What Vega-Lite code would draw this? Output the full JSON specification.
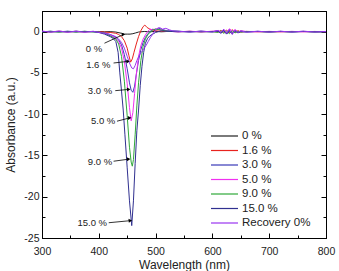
{
  "$schema": "https://vega.github.io/schema/vega-lite/v6.json",
  "width": 284,
  "height": 227,
  "autosize": "none",
  "padding": {"left": 42, "top": 11, "right": 13, "bottom": 33},
  "background": "#ffffff",
  "config": {
    "font": "Liberation Sans",
    "view": {"stroke": "#000", "strokeWidth": 1},
    "axis": {"grid": false, "domainColor": "#000", "tickColor": "#000", "labelColor": "#222", "titleColor": "#222", "titleFontWeight": "normal", "titleFontSize": 12, "labelFontSize": 10.5, "labelFlush": false}
  },
  "datasets": {
    "spec": [
      {"s":"0 %","w":300,"a":0},{"s":"0 %","w":315,"a":0.03},{"s":"0 %","w":330,"a":-0.02},{"s":"0 %","w":345,"a":0.02},{"s":"0 %","w":360,"a":-0.03},{"s":"0 %","w":375,"a":0.02},{"s":"0 %","w":390,"a":0},
      {"s":"0 %","w":400,"a":0.02},{"s":"0 %","w":410,"a":-0.02},{"s":"0 %","w":420,"a":0},{"s":"0 %","w":430,"a":-0.05},{"s":"0 %","w":440,"a":-0.2},{"s":"0 %","w":445,"a":-0.3},{"s":"0 %","w":450,"a":-0.3},{"s":"0 %","w":455,"a":-0.3},{"s":"0 %","w":460,"a":-0.25},{"s":"0 %","w":465,"a":-0.15},{"s":"0 %","w":470,"a":-0.05},{"s":"0 %","w":480,"a":0.02},{"s":"0 %","w":490,"a":-0.02},{"s":"0 %","w":500,"a":0.03},{"s":"0 %","w":510,"a":-0.02},{"s":"0 %","w":520,"a":0.02},
      {"s":"0 %","w":540,"a":0.02},{"s":"0 %","w":560,"a":0},{"s":"0 %","w":580,"a":0.03},{"s":"0 %","w":600,"a":0},{"s":"0 %","w":610,"a":0.05},{"s":"0 %","w":615,"a":-0.1},{"s":"0 %","w":620,"a":0.12},{"s":"0 %","w":625,"a":-0.15},{"s":"0 %","w":630,"a":0.1},{"s":"0 %","w":635,"a":-0.2},{"s":"0 %","w":640,"a":0.15},{"s":"0 %","w":645,"a":-0.08},{"s":"0 %","w":650,"a":0.05},{"s":"0 %","w":660,"a":0},{"s":"0 %","w":680,"a":0.02},{"s":"0 %","w":700,"a":-0.02},{"s":"0 %","w":720,"a":0.02},{"s":"0 %","w":740,"a":0},{"s":"0 %","w":760,"a":0.02},{"s":"0 %","w":780,"a":-0.02},{"s":"0 %","w":800,"a":0},

      {"s":"1.6 %","w":300,"a":0.02},{"s":"1.6 %","w":315,"a":-0.03},{"s":"1.6 %","w":330,"a":0.04},{"s":"1.6 %","w":345,"a":-0.02},{"s":"1.6 %","w":360,"a":0.03},{"s":"1.6 %","w":375,"a":-0.03},{"s":"1.6 %","w":390,"a":0.02},
      {"s":"1.6 %","w":400,"a":0},{"s":"1.6 %","w":410,"a":-0.05},{"s":"1.6 %","w":420,"a":-0.1},{"s":"1.6 %","w":430,"a":-0.2},{"s":"1.6 %","w":435,"a":-0.35},{"s":"1.6 %","w":440,"a":-0.6},{"s":"1.6 %","w":445,"a":-1.1},{"s":"1.6 %","w":450,"a":-2.0},{"s":"1.6 %","w":453,"a":-2.9},{"s":"1.6 %","w":456,"a":-3.7},{"s":"1.6 %","w":459,"a":-3.3},{"s":"1.6 %","w":462,"a":-2.5},{"s":"1.6 %","w":466,"a":-1.5},{"s":"1.6 %","w":470,"a":-0.6},{"s":"1.6 %","w":474,"a":0.1},{"s":"1.6 %","w":478,"a":0.6},{"s":"1.6 %","w":481,"a":0.8},{"s":"1.6 %","w":485,"a":0.5},{"s":"1.6 %","w":490,"a":0.3},{"s":"1.6 %","w":495,"a":0.2},{"s":"1.6 %","w":500,"a":0.1},{"s":"1.6 %","w":510,"a":0.05},{"s":"1.6 %","w":520,"a":0.03},
      {"s":"1.6 %","w":540,"a":0},{"s":"1.6 %","w":560,"a":0.03},{"s":"1.6 %","w":580,"a":-0.02},{"s":"1.6 %","w":600,"a":0.03},{"s":"1.6 %","w":610,"a":-0.05},{"s":"1.6 %","w":615,"a":0.15},{"s":"1.6 %","w":620,"a":-0.1},{"s":"1.6 %","w":625,"a":0.2},{"s":"1.6 %","w":630,"a":-0.15},{"s":"1.6 %","w":635,"a":0.25},{"s":"1.6 %","w":640,"a":-0.1},{"s":"1.6 %","w":645,"a":0.12},{"s":"1.6 %","w":650,"a":-0.05},{"s":"1.6 %","w":660,"a":0.03},{"s":"1.6 %","w":680,"a":-0.02},{"s":"1.6 %","w":700,"a":0.02},{"s":"1.6 %","w":720,"a":-0.02},{"s":"1.6 %","w":740,"a":0.02},{"s":"1.6 %","w":760,"a":0},{"s":"1.6 %","w":780,"a":0.02},{"s":"1.6 %","w":800,"a":0},

      {"s":"3.0 %","w":300,"a":-0.03},{"s":"3.0 %","w":315,"a":0.04},{"s":"3.0 %","w":330,"a":-0.03},{"s":"3.0 %","w":345,"a":0.05},{"s":"3.0 %","w":360,"a":-0.02},{"s":"3.0 %","w":375,"a":0.03},{"s":"3.0 %","w":390,"a":-0.02},
      {"s":"3.0 %","w":400,"a":-0.05},{"s":"3.0 %","w":410,"a":-0.15},{"s":"3.0 %","w":420,"a":-0.35},{"s":"3.0 %","w":430,"a":-0.7},{"s":"3.0 %","w":435,"a":-1.0},{"s":"3.0 %","w":440,"a":-1.6},{"s":"3.0 %","w":445,"a":-2.8},{"s":"3.0 %","w":450,"a":-4.5},{"s":"3.0 %","w":454,"a":-6.2},{"s":"3.0 %","w":457,"a":-7.1},{"s":"3.0 %","w":460,"a":-7.35},{"s":"3.0 %","w":463,"a":-6.6},{"s":"3.0 %","w":466,"a":-5.2},{"s":"3.0 %","w":470,"a":-3.5},{"s":"3.0 %","w":474,"a":-2.2},{"s":"3.0 %","w":478,"a":-1.3},{"s":"3.0 %","w":482,"a":-0.7},{"s":"3.0 %","w":486,"a":-0.3},{"s":"3.0 %","w":490,"a":0},{"s":"3.0 %","w":495,"a":0.3},{"s":"3.0 %","w":500,"a":0.2},{"s":"3.0 %","w":505,"a":0.4},{"s":"3.0 %","w":510,"a":0.3},{"s":"3.0 %","w":520,"a":0.1},
      {"s":"3.0 %","w":540,"a":0.05},{"s":"3.0 %","w":560,"a":-0.03},{"s":"3.0 %","w":580,"a":0.04},{"s":"3.0 %","w":600,"a":-0.02},{"s":"3.0 %","w":610,"a":0.1},{"s":"3.0 %","w":615,"a":-0.15},{"s":"3.0 %","w":620,"a":0.2},{"s":"3.0 %","w":625,"a":-0.25},{"s":"3.0 %","w":630,"a":0.15},{"s":"3.0 %","w":635,"a":-0.2},{"s":"3.0 %","w":640,"a":0.1},{"s":"3.0 %","w":645,"a":-0.1},{"s":"3.0 %","w":650,"a":0.05},{"s":"3.0 %","w":660,"a":-0.03},{"s":"3.0 %","w":680,"a":0.03},{"s":"3.0 %","w":700,"a":-0.02},{"s":"3.0 %","w":720,"a":0.03},{"s":"3.0 %","w":740,"a":-0.03},{"s":"3.0 %","w":760,"a":0.02},{"s":"3.0 %","w":780,"a":-0.02},{"s":"3.0 %","w":800,"a":0},

      {"s":"5.0 %","w":300,"a":0.04},{"s":"5.0 %","w":315,"a":-0.02},{"s":"5.0 %","w":330,"a":0.05},{"s":"5.0 %","w":345,"a":-0.04},{"s":"5.0 %","w":360,"a":0.04},{"s":"5.0 %","w":375,"a":-0.02},{"s":"5.0 %","w":390,"a":0.03},
      {"s":"5.0 %","w":400,"a":-0.05},{"s":"5.0 %","w":410,"a":-0.2},{"s":"5.0 %","w":420,"a":-0.4},{"s":"5.0 %","w":430,"a":-0.8},{"s":"5.0 %","w":435,"a":-1.2},{"s":"5.0 %","w":440,"a":-2.0},{"s":"5.0 %","w":445,"a":-3.6},{"s":"5.0 %","w":450,"a":-6.3},{"s":"5.0 %","w":454,"a":-9.2},{"s":"5.0 %","w":457,"a":-10.8},{"s":"5.0 %","w":460,"a":-9.8},{"s":"5.0 %","w":463,"a":-7.5},{"s":"5.0 %","w":466,"a":-5.2},{"s":"5.0 %","w":470,"a":-3.0},{"s":"5.0 %","w":474,"a":-1.7},{"s":"5.0 %","w":478,"a":-0.9},{"s":"5.0 %","w":482,"a":-0.4},{"s":"5.0 %","w":486,"a":0},{"s":"5.0 %","w":490,"a":0.3},{"s":"5.0 %","w":495,"a":0.2},{"s":"5.0 %","w":500,"a":0.35},{"s":"5.0 %","w":510,"a":0.2},{"s":"5.0 %","w":520,"a":0.05},
      {"s":"5.0 %","w":540,"a":-0.03},{"s":"5.0 %","w":560,"a":0.05},{"s":"5.0 %","w":580,"a":-0.02},{"s":"5.0 %","w":600,"a":0.04},{"s":"5.0 %","w":610,"a":0.12},{"s":"5.0 %","w":615,"a":-0.05},{"s":"5.0 %","w":620,"a":0.25},{"s":"5.0 %","w":625,"a":-0.1},{"s":"5.0 %","w":630,"a":0.35},{"s":"5.0 %","w":635,"a":0.05},{"s":"5.0 %","w":640,"a":0.25},{"s":"5.0 %","w":645,"a":-0.05},{"s":"5.0 %","w":650,"a":0.1},{"s":"5.0 %","w":660,"a":0.02},{"s":"5.0 %","w":680,"a":-0.02},{"s":"5.0 %","w":700,"a":0.03},{"s":"5.0 %","w":720,"a":-0.02},{"s":"5.0 %","w":740,"a":0.03},{"s":"5.0 %","w":760,"a":-0.03},{"s":"5.0 %","w":780,"a":0.02},{"s":"5.0 %","w":800,"a":0},

      {"s":"9.0 %","w":300,"a":-0.02},{"s":"9.0 %","w":315,"a":0.03},{"s":"9.0 %","w":330,"a":-0.04},{"s":"9.0 %","w":345,"a":0.03},{"s":"9.0 %","w":360,"a":-0.03},{"s":"9.0 %","w":375,"a":0.04},{"s":"9.0 %","w":390,"a":-0.03},
      {"s":"9.0 %","w":400,"a":-0.05},{"s":"9.0 %","w":410,"a":-0.2},{"s":"9.0 %","w":420,"a":-0.5},{"s":"9.0 %","w":430,"a":-0.9},{"s":"9.0 %","w":435,"a":-1.5},{"s":"9.0 %","w":440,"a":-3.0},{"s":"9.0 %","w":445,"a":-6.0},{"s":"9.0 %","w":450,"a":-10.2},{"s":"9.0 %","w":454,"a":-14},{"s":"9.0 %","w":457,"a":-15.8},{"s":"9.0 %","w":459,"a":-16.3},{"s":"9.0 %","w":461,"a":-15.5},{"s":"9.0 %","w":464,"a":-12.5},{"s":"9.0 %","w":467,"a":-9},{"s":"9.0 %","w":470,"a":-6.2},{"s":"9.0 %","w":474,"a":-3.5},{"s":"9.0 %","w":478,"a":-1.8},{"s":"9.0 %","w":482,"a":-0.9},{"s":"9.0 %","w":486,"a":-0.4},{"s":"9.0 %","w":490,"a":-0.1},{"s":"9.0 %","w":495,"a":0.2},{"s":"9.0 %","w":500,"a":0.3},{"s":"9.0 %","w":510,"a":0.2},{"s":"9.0 %","w":520,"a":0.05},
      {"s":"9.0 %","w":540,"a":0.03},{"s":"9.0 %","w":560,"a":-0.02},{"s":"9.0 %","w":580,"a":0.03},{"s":"9.0 %","w":600,"a":-0.03},{"s":"9.0 %","w":610,"a":-0.08},{"s":"9.0 %","w":615,"a":0.1},{"s":"9.0 %","w":620,"a":-0.2},{"s":"9.0 %","w":625,"a":0.05},{"s":"9.0 %","w":630,"a":-0.25},{"s":"9.0 %","w":635,"a":0.1},{"s":"9.0 %","w":640,"a":-0.15},{"s":"9.0 %","w":645,"a":0.05},{"s":"9.0 %","w":650,"a":-0.05},{"s":"9.0 %","w":660,"a":0.02},{"s":"9.0 %","w":680,"a":0.02},{"s":"9.0 %","w":700,"a":-0.03},{"s":"9.0 %","w":720,"a":0.02},{"s":"9.0 %","w":740,"a":-0.02},{"s":"9.0 %","w":760,"a":0.03},{"s":"9.0 %","w":780,"a":-0.02},{"s":"9.0 %","w":800,"a":0},

      {"s":"15.0 %","w":300,"a":0.03},{"s":"15.0 %","w":315,"a":-0.04},{"s":"15.0 %","w":330,"a":0.02},{"s":"15.0 %","w":345,"a":-0.03},{"s":"15.0 %","w":360,"a":0.05},{"s":"15.0 %","w":375,"a":-0.03},{"s":"15.0 %","w":390,"a":0.02},
      {"s":"15.0 %","w":400,"a":-0.1},{"s":"15.0 %","w":410,"a":-0.3},{"s":"15.0 %","w":420,"a":-0.6},{"s":"15.0 %","w":425,"a":-0.8},{"s":"15.0 %","w":430,"a":-1.2},{"s":"15.0 %","w":434,"a":-2.5},{"s":"15.0 %","w":437,"a":-5},{"s":"15.0 %","w":440,"a":-7.2},{"s":"15.0 %","w":443,"a":-9.5},{"s":"15.0 %","w":446,"a":-12.5},{"s":"15.0 %","w":450,"a":-16.5},{"s":"15.0 %","w":454,"a":-20.5},{"s":"15.0 %","w":458,"a":-23.5},{"s":"15.0 %","w":461,"a":-20.5},{"s":"15.0 %","w":464,"a":-16},{"s":"15.0 %","w":467,"a":-12},{"s":"15.0 %","w":470,"a":-9.5},{"s":"15.0 %","w":473,"a":-6.5},{"s":"15.0 %","w":476,"a":-4.2},{"s":"15.0 %","w":479,"a":-2.5},{"s":"15.0 %","w":482,"a":-1.4},{"s":"15.0 %","w":486,"a":-0.8},{"s":"15.0 %","w":490,"a":-0.5},{"s":"15.0 %","w":495,"a":-0.3},{"s":"15.0 %","w":500,"a":-0.1},{"s":"15.0 %","w":510,"a":0.1},{"s":"15.0 %","w":520,"a":0.05},
      {"s":"15.0 %","w":540,"a":-0.02},{"s":"15.0 %","w":560,"a":0.03},{"s":"15.0 %","w":580,"a":-0.03},{"s":"15.0 %","w":600,"a":0.02},{"s":"15.0 %","w":610,"a":0.05},{"s":"15.0 %","w":615,"a":-0.2},{"s":"15.0 %","w":620,"a":0.1},{"s":"15.0 %","w":625,"a":-0.3},{"s":"15.0 %","w":630,"a":0.05},{"s":"15.0 %","w":635,"a":-0.25},{"s":"15.0 %","w":640,"a":0.08},{"s":"15.0 %","w":645,"a":-0.15},{"s":"15.0 %","w":650,"a":0},{"s":"15.0 %","w":660,"a":-0.03},{"s":"15.0 %","w":680,"a":0.02},{"s":"15.0 %","w":700,"a":-0.02},{"s":"15.0 %","w":720,"a":0.02},{"s":"15.0 %","w":740,"a":-0.03},{"s":"15.0 %","w":760,"a":0.02},{"s":"15.0 %","w":780,"a":-0.02},{"s":"15.0 %","w":800,"a":0},

      {"s":"Recovery 0%","w":300,"a":0.06},{"s":"Recovery 0%","w":315,"a":-0.05},{"s":"Recovery 0%","w":330,"a":0.07},{"s":"Recovery 0%","w":345,"a":-0.06},{"s":"Recovery 0%","w":360,"a":0.05},{"s":"Recovery 0%","w":375,"a":-0.07},{"s":"Recovery 0%","w":390,"a":0.04},
      {"s":"Recovery 0%","w":400,"a":-0.1},{"s":"Recovery 0%","w":410,"a":-0.2},{"s":"Recovery 0%","w":420,"a":-0.35},{"s":"Recovery 0%","w":430,"a":-0.6},{"s":"Recovery 0%","w":435,"a":-0.9},{"s":"Recovery 0%","w":440,"a":-1.3},{"s":"Recovery 0%","w":445,"a":-2.0},{"s":"Recovery 0%","w":450,"a":-3.0},{"s":"Recovery 0%","w":454,"a":-3.8},{"s":"Recovery 0%","w":458,"a":-4.4},{"s":"Recovery 0%","w":461,"a":-4.5},{"s":"Recovery 0%","w":464,"a":-4.1},{"s":"Recovery 0%","w":467,"a":-3.5},{"s":"Recovery 0%","w":471,"a":-2.9},{"s":"Recovery 0%","w":475,"a":-2.5},{"s":"Recovery 0%","w":479,"a":-2.1},{"s":"Recovery 0%","w":483,"a":-1.7},{"s":"Recovery 0%","w":487,"a":-1.2},{"s":"Recovery 0%","w":491,"a":-0.7},{"s":"Recovery 0%","w":495,"a":-0.3},{"s":"Recovery 0%","w":499,"a":0.1},{"s":"Recovery 0%","w":503,"a":0.4},{"s":"Recovery 0%","w":507,"a":0.5},{"s":"Recovery 0%","w":512,"a":0.3},{"s":"Recovery 0%","w":518,"a":0.4},{"s":"Recovery 0%","w":525,"a":0.2},{"s":"Recovery 0%","w":530,"a":0.1},
      {"s":"Recovery 0%","w":540,"a":0.05},{"s":"Recovery 0%","w":560,"a":-0.06},{"s":"Recovery 0%","w":580,"a":0.07},{"s":"Recovery 0%","w":600,"a":-0.05},{"s":"Recovery 0%","w":610,"a":0.15},{"s":"Recovery 0%","w":615,"a":-0.1},{"s":"Recovery 0%","w":620,"a":0.3},{"s":"Recovery 0%","w":625,"a":-0.2},{"s":"Recovery 0%","w":630,"a":0.3},{"s":"Recovery 0%","w":635,"a":-0.35},{"s":"Recovery 0%","w":640,"a":0.2},{"s":"Recovery 0%","w":645,"a":-0.1},{"s":"Recovery 0%","w":650,"a":0.08},{"s":"Recovery 0%","w":660,"a":-0.06},{"s":"Recovery 0%","w":680,"a":0.05},{"s":"Recovery 0%","w":700,"a":-0.06},{"s":"Recovery 0%","w":720,"a":0.05},{"s":"Recovery 0%","w":740,"a":-0.05},{"s":"Recovery 0%","w":760,"a":0.06},{"s":"Recovery 0%","w":780,"a":-0.05},{"s":"Recovery 0%","w":800,"a":0.02}
    ],
    "ann": [
      {"label":"0 %","tx":406,"ty":-2.1,"x1":410,"y1":-1.4,"x2":443.5,"y2":-0.34},
      {"label":"1.6 %","tx":420.5,"ty":-4.0,"x1":426,"y1":-3.8,"x2":451.6,"y2":-3.6},
      {"label":"3.0 %","tx":423.5,"ty":-7.15,"x1":429,"y1":-7.15,"x2":452.6,"y2":-7.0},
      {"label":"5.0 %","tx":429,"ty":-10.85,"x1":432,"y1":-10.85,"x2":454.4,"y2":-10.45},
      {"label":"9.0 %","tx":423.5,"ty":-15.8,"x1":426,"y1":-15.7,"x2":452.6,"y2":-15.45},
      {"label":"15.0 %","tx":414.5,"ty":-23.15,"x1":417.5,"y1":-23.15,"x2":455.6,"y2":-22.9}
    ]
  },
  "layer": [
    {
      "data": {"name": "spec"},
      "mark": {"type": "line", "strokeWidth": 1, "clip": true},
      "encoding": {
        "x": {"field": "w", "type": "quantitative", "scale": {"domain": [300, 800], "nice": false, "zero": false},
          "axis": {"orient": "bottom", "title": "Wavelength (nm)", "values": [300,350,400,450,500,550,600,650,700,750,800],
            "labelExpr": "datum.value % 100 === 0 ? datum.label : ''",
            "tickSize": {"condition": {"test": "datum.value % 100 !== 0", "value": -3}, "value": -5},
            "labelPadding": 13, "titlePadding": 3}},
        "y": {"field": "a", "type": "quantitative", "scale": {"domain": [-25, 2.5], "nice": false, "zero": false},
          "axis": {"orient": "left", "title": "Absorbance (a.u.)", "values": [-25,-22.5,-20,-17.5,-15,-12.5,-10,-7.5,-5,-2.5,0,2.5],
            "labelExpr": "datum.value % 5 === 0 ? toString(datum.value) : ''",
            "tickSize": {"condition": {"test": "datum.value % 5 !== 0", "value": -3}, "value": -5},
            "labelPadding": 8, "titlePadding": 6}},
        "color": {"field": "s", "type": "nominal",
          "scale": {"domain": ["0 %","1.6 %","3.0 %","5.0 %","9.0 %","15.0 %","Recovery 0%"],
                    "range": ["#222222","#e8231e","#3a3ab8","#f030f0","#2fa83a","#303090","#9a35f0"]},
          "legend": {"orient": "none", "legendX": 174.5, "legendY": 117, "title": null, "symbolType": "M-1.93,0H1.93", "symbolSize": 196, "symbolStrokeWidth": 1.2, "symbolFillColor": "transparent", "labelFontSize": 11.5, "labelColor": "#222", "labelOffset": 9.5, "rowPadding": 0.5, "padding": 0}}
      }
    },
    {
      "data": {"name": "ann"},
      "mark": {"type": "rule", "color": "#000", "strokeWidth": 0.8},
      "encoding": {
        "x": {"field": "x1", "type": "quantitative", "scale": {"domain": [300, 800], "nice": false, "zero": false}, "axis": null},
        "y": {"field": "y1", "type": "quantitative", "scale": {"domain": [-25, 2.5], "nice": false, "zero": false}, "axis": null},
        "x2": {"field": "x2"},
        "y2": {"field": "y2"}
      }
    },
    {
      "data": {"name": "ann"},
      "mark": {"type": "point", "shape": "triangle-right", "filled": true, "color": "#000", "opacity": 1, "size": 16, "angle": -6},
      "encoding": {
        "x": {"field": "x2", "type": "quantitative", "scale": {"domain": [300, 800], "nice": false, "zero": false}, "axis": null},
        "y": {"field": "y2", "type": "quantitative", "scale": {"domain": [-25, 2.5], "nice": false, "zero": false}, "axis": null}
      }
    },
    {
      "data": {"name": "ann"},
      "mark": {"type": "text", "align": "right", "baseline": "middle", "fontSize": 9.5, "color": "#222"},
      "encoding": {
        "x": {"field": "tx", "type": "quantitative", "scale": {"domain": [300, 800], "nice": false, "zero": false},
          "axis": {"orient": "top", "title": null, "labels": false, "values": [300,350,400,450,500,550,600,650,700,750,800],
            "tickSize": {"condition": {"test": "datum.value % 100 !== 0", "value": -3}, "value": -5}}},
        "y": {"field": "ty", "type": "quantitative", "scale": {"domain": [-25, 2.5], "nice": false, "zero": false},
          "axis": {"orient": "right", "title": null, "labels": false, "values": [-25,-22.5,-20,-17.5,-15,-12.5,-10,-7.5,-5,-2.5,0,2.5],
            "tickSize": {"condition": {"test": "datum.value % 5 !== 0", "value": -3}, "value": -5}}},
        "text": {"field": "label"}
      }
    }
  ],
  "resolve": {"axis": {"x": "independent", "y": "independent"}}
}
